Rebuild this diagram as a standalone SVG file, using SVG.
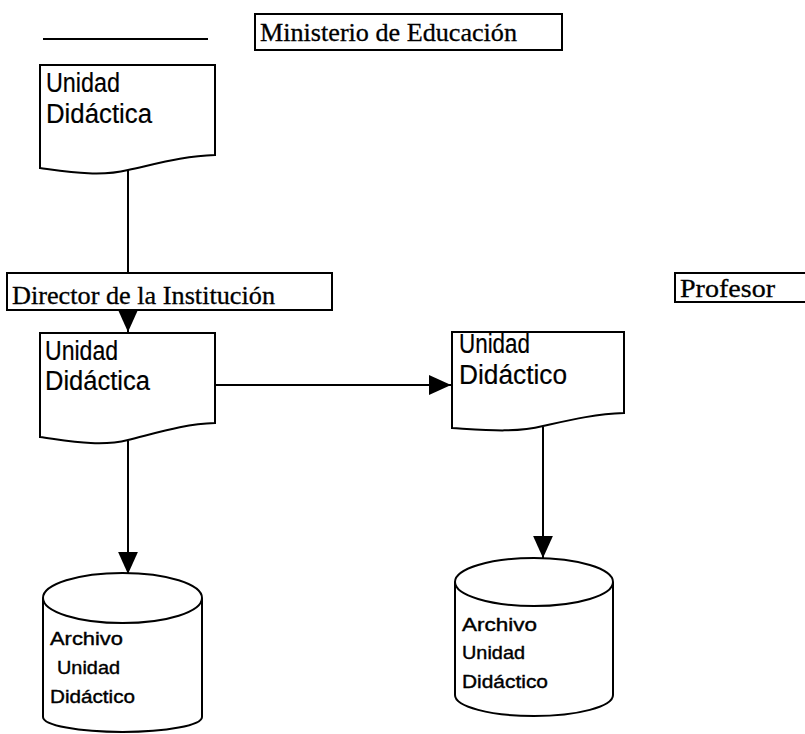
<svg xmlns="http://www.w3.org/2000/svg" width="805" height="734" viewBox="0 0 805 734">
<style>
.shape{fill:#fff;stroke:#000;stroke-width:2}
.conn{fill:none;stroke:#000;stroke-width:2}
.serif{font-family:"Liberation Serif","Times New Roman",serif;font-size:26px;fill:#000;stroke:#000;stroke-width:0.3}
.sans{font-family:"Liberation Sans",Arial,sans-serif;font-size:27px;fill:#000;stroke:#000;stroke-width:0.2}
.cyl{font-family:"Liberation Sans",Arial,sans-serif;font-size:19px;fill:#000;stroke:#000;stroke-width:0.4}
</style>
<defs>
<marker id="ah" markerUnits="userSpaceOnUse" markerWidth="22" markerHeight="22" viewBox="0 0 20 20" refX="20" refY="10" orient="auto">
<path d="M0,1 L20,10 L0,19 Z" fill="#000"/>
</marker>
</defs>
<rect width="805" height="734" fill="#fff"/>
<line x1="43" y1="39" x2="208" y2="39" stroke="#000" stroke-width="2"/>
<g id="connectors">
<line class="conn" x1="128" y1="170" x2="128" y2="332" marker-end="url(#ah)"/>
<line class="conn" x1="215" y1="385" x2="451" y2="385" marker-end="url(#ah)"/>
<line class="conn" x1="128" y1="441" x2="128" y2="574" marker-end="url(#ah)"/>
<line class="conn" x1="543" y1="427" x2="543" y2="558" marker-end="url(#ah)"/>
</g>
<g id="ministerio">
<rect class="shape" x="255" y="14" width="307" height="36"/>
<text class="serif" x="260" y="41" textLength="257" lengthAdjust="spacingAndGlyphs">Ministerio de Educación</text>
</g>
<g id="doc1">
<path class="shape" d="M40,65 H215 V155 C185,156 160,163 128,170 C100,177 70,172 40,168 Z"/>
<text class="sans" x="46" y="92" textLength="74" lengthAdjust="spacingAndGlyphs">Unidad</text>
<text class="sans" x="46" y="123" textLength="106" lengthAdjust="spacingAndGlyphs">Didáctica</text>
</g>
<g id="director">
<rect class="shape" x="7" y="273" width="325" height="37"/>
<text class="serif" x="12" y="304" textLength="263" lengthAdjust="spacingAndGlyphs">Director de la Institución</text>
</g>
<g id="profesor">
<rect class="shape" x="675" y="273" width="140" height="29"/>
<text class="serif" x="680" y="297" textLength="95" lengthAdjust="spacingAndGlyphs">Profesor</text>
</g>
<g id="doc2">
<path class="shape" d="M40,333 H215 V423 C185,424 160,432 128,440 C100,447 70,441 40,437 Z"/>
<text class="sans" x="45" y="360" textLength="73" lengthAdjust="spacingAndGlyphs">Unidad</text>
<text class="sans" x="45" y="390" textLength="105" lengthAdjust="spacingAndGlyphs">Didáctica</text>
</g>
<g id="doc3">
<path class="shape" d="M452,332 H624 V413 C595,414 570,420 543,426 C515,433 485,430 452,428 Z"/>
<text class="sans" x="459" y="353" textLength="71" lengthAdjust="spacingAndGlyphs">Unidad</text>
<text class="sans" x="459" y="384" textLength="108" lengthAdjust="spacingAndGlyphs">Didáctico</text>
</g>
<g id="archivo1">
<path class="shape" d="M43,598 V717 A79.5,15 0 0 0 202,717 V598"/>
<ellipse class="shape" cx="122.5" cy="598" rx="79.5" ry="25"/>
<text class="cyl" x="50" y="645" textLength="73" lengthAdjust="spacingAndGlyphs">Archivo</text>
<text class="cyl" x="57" y="674" textLength="63" lengthAdjust="spacingAndGlyphs">Unidad</text>
<text class="cyl" x="50" y="703" textLength="85" lengthAdjust="spacingAndGlyphs">Didáctico</text>
</g>
<g id="archivo2">
<path class="shape" d="M455,582 V695 A79,21 0 0 0 613,695 V582"/>
<ellipse class="shape" cx="534" cy="582" rx="79" ry="24"/>
<text class="cyl" x="462" y="631" textLength="75" lengthAdjust="spacingAndGlyphs">Archivo</text>
<text class="cyl" x="462" y="659" textLength="63" lengthAdjust="spacingAndGlyphs">Unidad</text>
<text class="cyl" x="462" y="688" textLength="86" lengthAdjust="spacingAndGlyphs">Didáctico</text>
</g>
</svg>
